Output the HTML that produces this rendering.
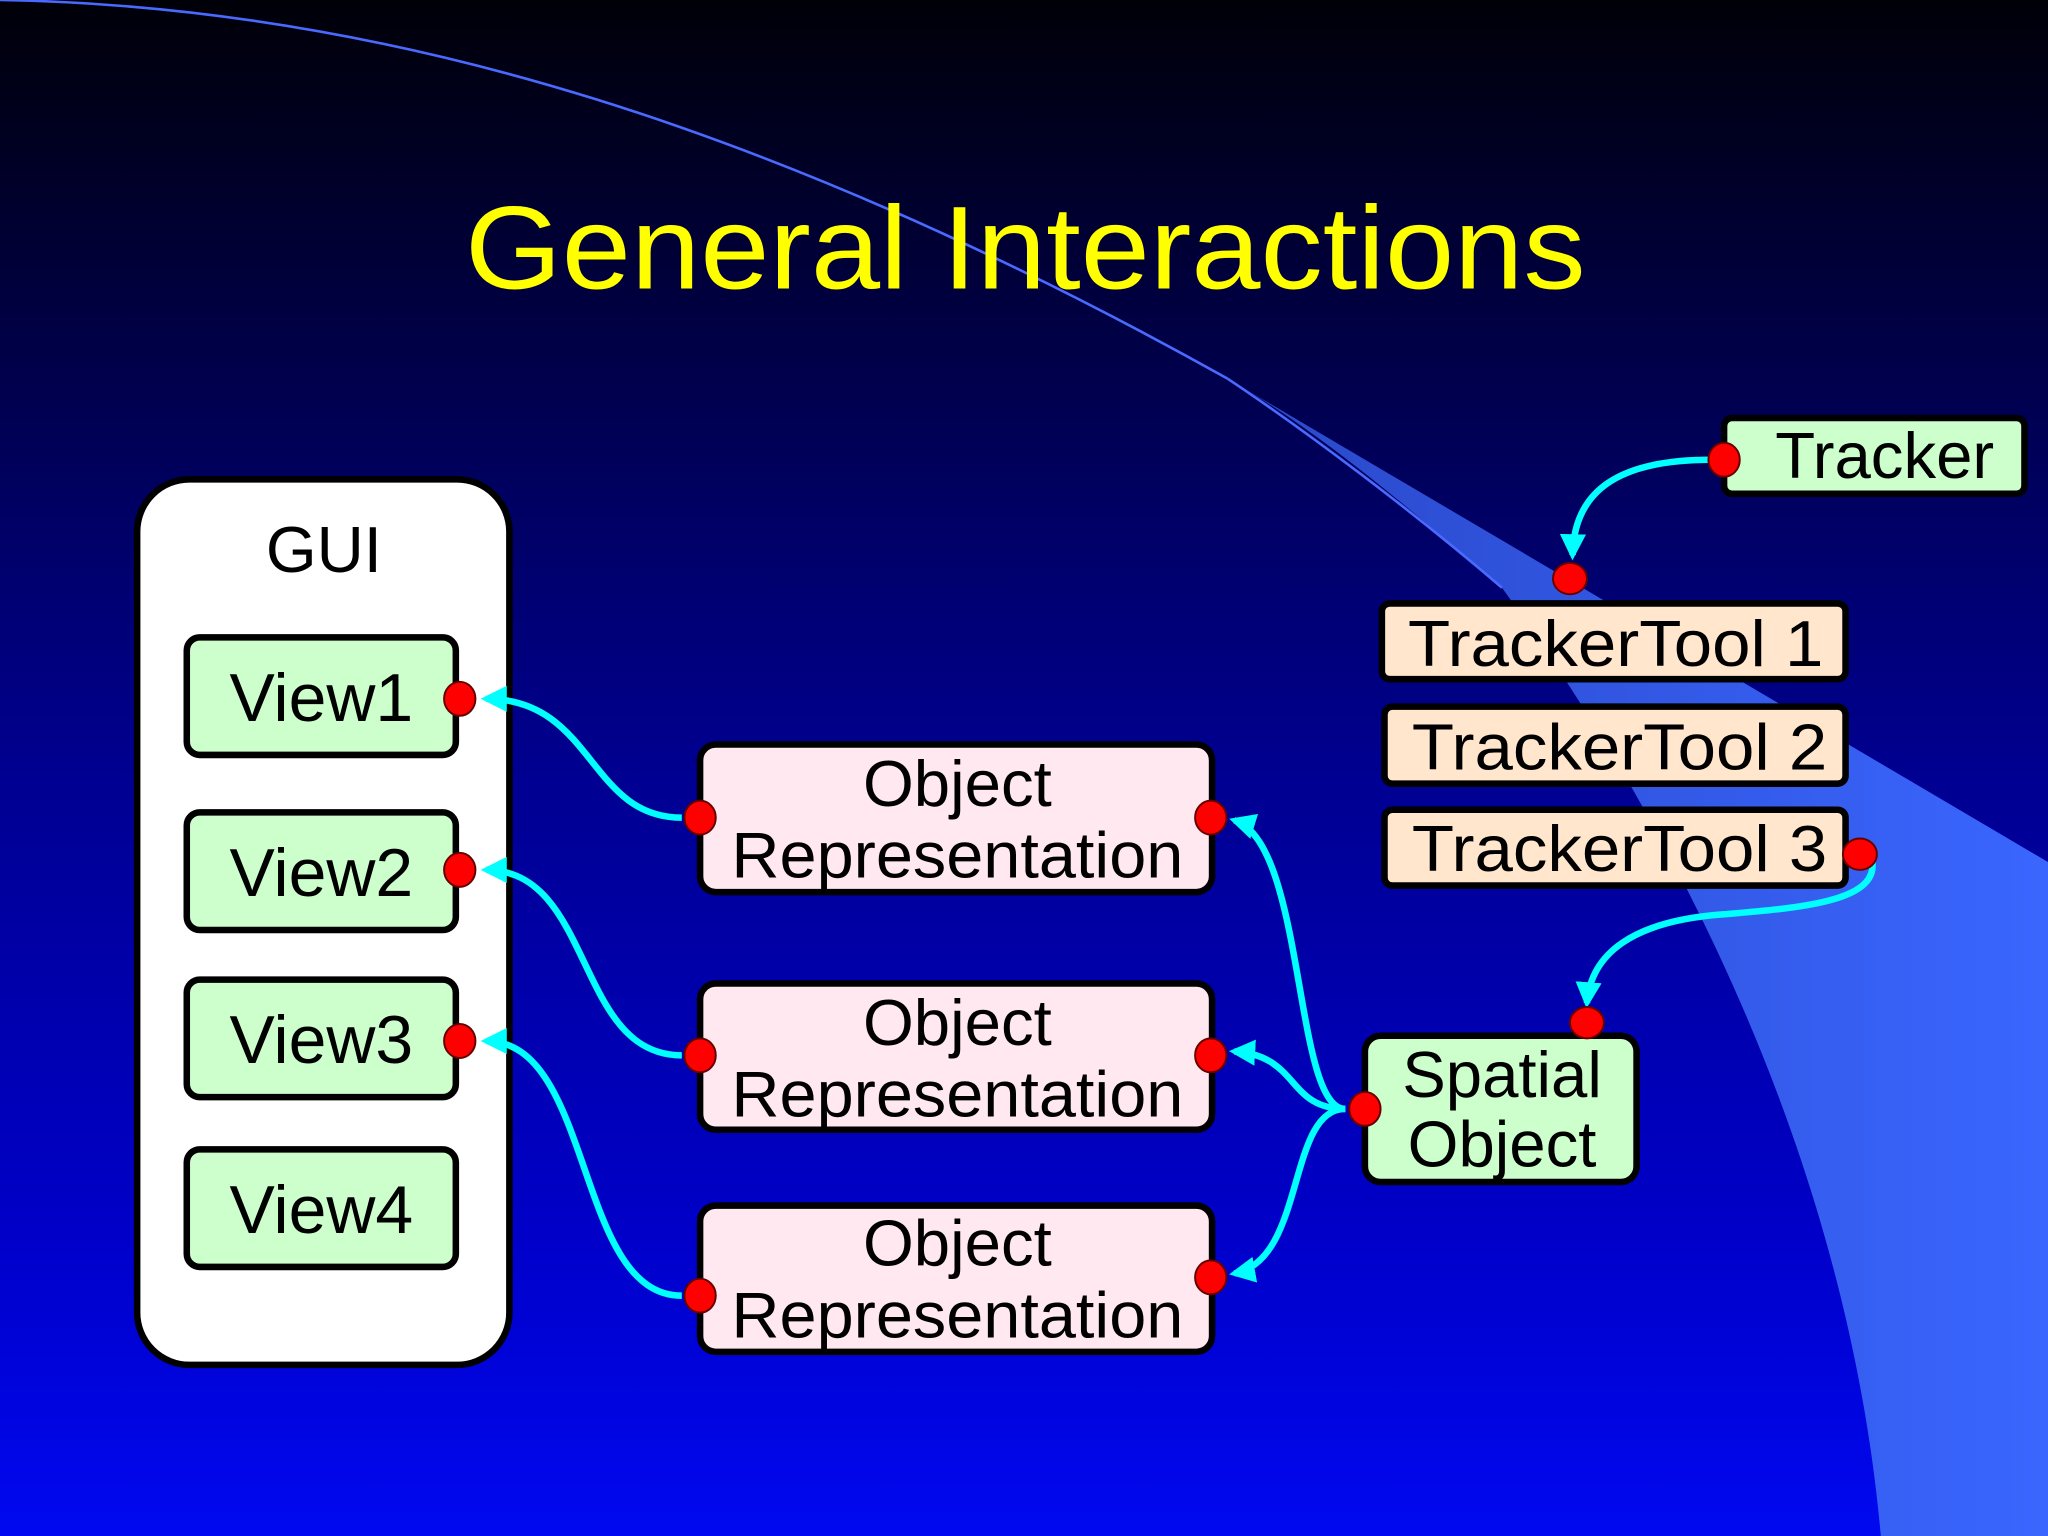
<!DOCTYPE html>
<html><head><meta charset="utf-8"><style>
html,body{margin:0;padding:0;width:2048px;height:1536px;overflow:hidden;background:#000}
svg{display:block}
text{font-family:"Liberation Sans",Arial,sans-serif}
</style></head><body>
<svg width="2048" height="1536" viewBox="0 0 1568 1176" xmlns="http://www.w3.org/2000/svg">
<defs>
<linearGradient id="bg" x1="0" y1="0" x2="0" y2="1">
<stop offset="0" stop-color="#000008"/>
<stop offset="0.2" stop-color="#000040"/>
<stop offset="0.5" stop-color="#000090"/>
<stop offset="0.8" stop-color="#0000c8"/>
<stop offset="1" stop-color="#0008f0"/>
</linearGradient>
<linearGradient id="sw" x1="0" y1="0" x2="1" y2="0">
<stop offset="0" stop-color="#2a48c8"/>
<stop offset="1" stop-color="#3a66ff"/>
</linearGradient>
<marker id="ah" viewBox="0 0 10 10" refX="8" refY="5" markerWidth="4" markerHeight="4" orient="auto-start-reverse" markerUnits="strokeWidth">
<path d="M0,0 L10,5 L0,10 z" fill="#00ffff"/>
</marker>
</defs>
<rect width="1568" height="1176" fill="url(#bg)"/>
<path d="M940,290 L1568,660 L1568,1176 L1440,1176 C1420,950 1330,700 1150,450 C1080,390 1010,330 940,290 Z" fill="url(#sw)"/>
<path d="M0,0 C300,5 600,100 940,290" fill="none" stroke="#4a6aff" stroke-width="2"/>
<path d="M940,290 C1000,330 1080,390 1150,450" fill="none" stroke="#4a6aff" stroke-width="2"/>

<text x="785" y="221" font-size="90" fill="#ffff00" text-anchor="middle" textLength="858" lengthAdjust="spacingAndGlyphs">General Interactions</text>

<g stroke="#000" stroke-width="5">
<rect x="105" y="367" width="285" height="678" rx="40" fill="#fff"/>
<rect x="143" y="488" width="206" height="90" rx="10" fill="#ccffcc"/>
<rect x="143" y="622" width="206" height="90" rx="10" fill="#ccffcc"/>
<rect x="143" y="750" width="206" height="90" rx="10" fill="#ccffcc"/>
<rect x="143" y="880" width="206" height="90" rx="10" fill="#ccffcc"/>
<rect x="536" y="570" width="392" height="113" rx="12" fill="#ffe8f0"/>
<rect x="536" y="753" width="392" height="112" rx="12" fill="#ffe8f0"/>
<rect x="536" y="923" width="392" height="112" rx="12" fill="#ffe8f0"/>
<rect x="1045" y="793" width="208" height="112" rx="12" fill="#ccffcc"/>
<rect x="1320" y="320" width="230" height="58" rx="6" fill="#ccffcc"/>
<rect x="1058" y="462" width="355" height="58" rx="6" fill="#ffe6cc"/>
<rect x="1060" y="541" width="353" height="59" rx="6" fill="#ffe6cc"/>
<rect x="1060" y="620" width="353" height="58" rx="6" fill="#ffe6cc"/>
</g>

<g fill="#000" font-size="50" text-anchor="middle">
<text x="248" y="438">GUI</text>
<text x="246" y="552" font-size="52">View1</text>
<text x="246" y="686" font-size="52">View2</text>
<text x="246" y="814" font-size="52">View3</text>
<text x="246" y="944" font-size="52">View4</text>
<text x="733" y="617">Object</text>
<text x="733" y="672" textLength="346" lengthAdjust="spacingAndGlyphs">Representation</text>
<text x="733" y="800">Object</text>
<text x="733" y="855" textLength="346" lengthAdjust="spacingAndGlyphs">Representation</text>
<text x="733" y="969">Object</text>
<text x="733" y="1024" textLength="346" lengthAdjust="spacingAndGlyphs">Representation</text>
<text x="1150" y="840">Spatial</text>
<text x="1150" y="893">Object</text>
<text x="1443" y="366">Tracker</text>
<text x="1237" y="510" textLength="318" lengthAdjust="spacingAndGlyphs">TrackerTool 1</text>
<text x="1240" y="589" textLength="318" lengthAdjust="spacingAndGlyphs">TrackerTool 2</text>
<text x="1240" y="667" textLength="318" lengthAdjust="spacingAndGlyphs">TrackerTool 3</text>
</g>

<g fill="none" stroke="#00ffff" stroke-width="5" marker-end="url(#ah)">
<path d="M1310,352 C1240,352 1205,375 1204,425"/>
<path d="M1432,654 C1445,690 1380,695 1320,700 C1250,705 1218,730 1215,768"/>
<path d="M522,626 C450,626 455,535 372,535"/>
<path d="M522,808 C440,808 455,666 372,666"/>
<path d="M522,992 C440,992 455,797 372,797"/>
<path d="M1030,849 C990,849 1000,645 945,628"/>
<path d="M1030,849 C985,849 995,808 945,805"/>
<path d="M1030,849 C985,849 1000,965 945,975"/>
</g>

<g fill="#ff0000" stroke="#600" stroke-width="1.5">
<ellipse cx="352" cy="535" rx="12" ry="13"/>
<ellipse cx="352" cy="666" rx="12" ry="13"/>
<ellipse cx="352" cy="797" rx="12" ry="13"/>
<ellipse cx="536" cy="626" rx="12" ry="13"/>
<ellipse cx="536" cy="808" rx="12" ry="13"/>
<ellipse cx="536" cy="992" rx="12" ry="13"/>
<ellipse cx="927" cy="626" rx="12" ry="13"/>
<ellipse cx="927" cy="808" rx="12" ry="13"/>
<ellipse cx="927" cy="978" rx="12" ry="13"/>
<ellipse cx="1045" cy="849" rx="12" ry="13"/>
<ellipse cx="1215" cy="783" rx="13" ry="12"/>
<ellipse cx="1320" cy="352" rx="12" ry="13"/>
<ellipse cx="1202" cy="443" rx="13" ry="12"/>
<ellipse cx="1424" cy="654" rx="13" ry="12"/>
</g>
</svg>
</body></html>
